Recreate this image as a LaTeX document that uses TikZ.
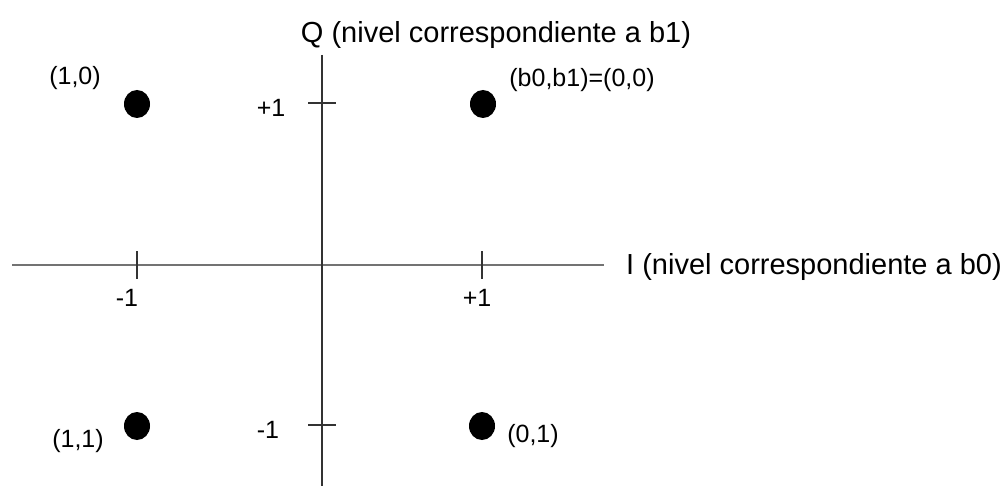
\documentclass[tikz,border=0pt]{standalone}
\usepackage{fontspec}
\setmainfont{Liberation Sans}
\usetikzlibrary{shapes.geometric}
\begin{document}
\begin{tikzpicture}[x=1pt,y=-1pt,
  axisv/.style={draw=black!80,line width=1.3pt},
  axish/.style={draw=black!55,line width=2.6pt},
  tickmark/.style={draw=black!80,line width=1.3pt},
  dot/.style={ellipse,fill=black,minimum width=26pt,minimum height=28pt,inner sep=0pt},
  big/.style={font=\fontsize{29}{34}\selectfont,inner sep=0pt},
  small/.style={font=\fontsize{25}{30}\selectfont,inner sep=0pt}]
\useasboundingbox (0,0) rectangle (1008,486);
\fill[white] (0,0) rectangle (1008,486);
% axes
\coordinate (vtop) at (322,55);
\coordinate (vbot) at (322,486);
\coordinate (hl) at (12,265);
\coordinate (hr) at (604,265);
\draw[axish] (hl) -- (hr);
\draw[axisv] (vtop) -- (vbot);
% ticks
\coordinate (tq1a) at (308,103); \coordinate (tq1b) at (336,103);
\coordinate (tq2a) at (308,425); \coordinate (tq2b) at (336,425);
\coordinate (ti1a) at (137,251); \coordinate (ti1b) at (137,279);
\coordinate (ti2a) at (482,251); \coordinate (ti2b) at (482,279);
\draw[tickmark] (tq1a) -- (tq1b);
\draw[tickmark] (tq2a) -- (tq2b);
\draw[tickmark] (ti1a) -- (ti1b);
\draw[tickmark] (ti2a) -- (ti2b);
% dots
\node[dot] (p10) at (137,104) {};
\node[dot] (p00) at (483,104) {};
\node[dot] (p11) at (137,426) {};
\node[dot] (p01) at (482,426) {};
% labels
\node[big,anchor=base] (qlab) at (496,43) {Q (nivel correspondiente a b1)};
\node[big,anchor=west] (ilab) at (626,267) {I (nivel correspondiente a b0)};
\node[small] (l10) at (75,78) {(1,0)};
\node[small] (l00) at (582,80) {(b0,b1)=(0,0)};
\node[small] (lq1) at (271,108) {+1};
\node[small] (lq2) at (268,430) {-1};
\node[small] (li1) at (127,298) {-1};
\node[small] (li2) at (477,298) {+1};
\node[small] (l11) at (78,441) {(1,1)};
\node[small] (l01) at (533,436) {(0,1)};
\end{tikzpicture}
\end{document}
